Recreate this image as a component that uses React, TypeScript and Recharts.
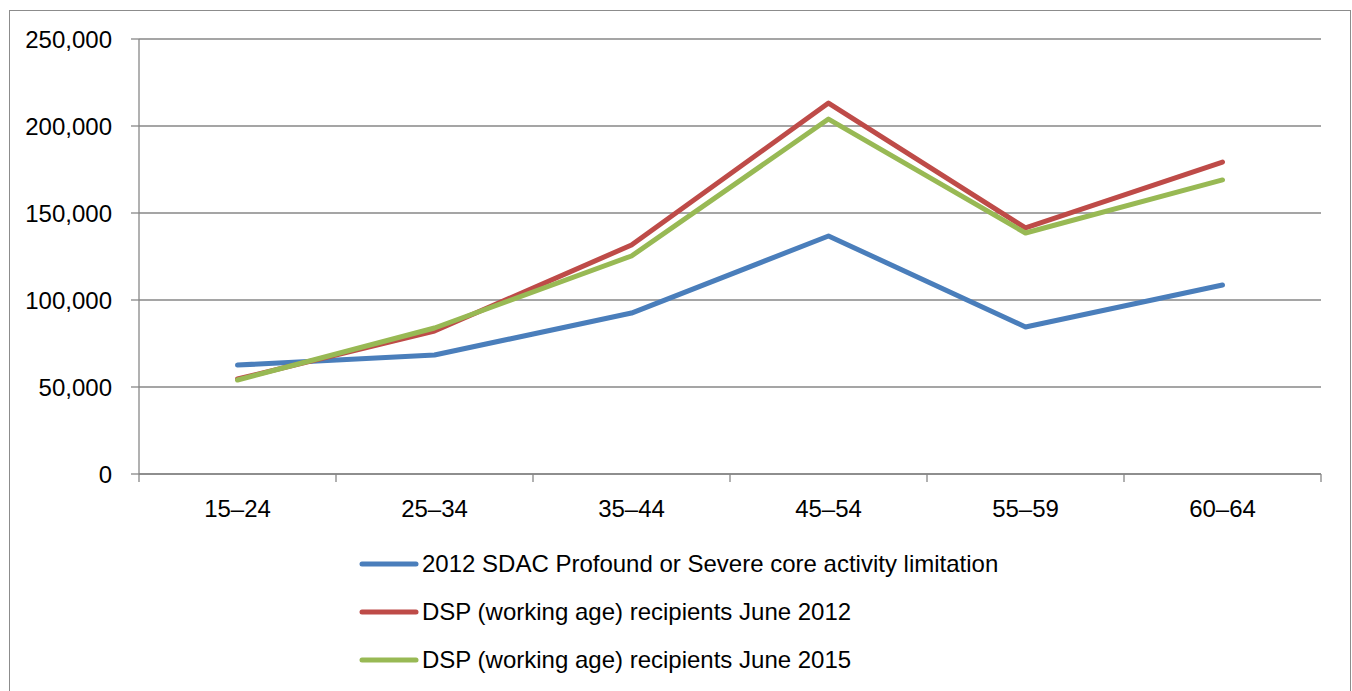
import { LineChart, Line, XAxis, YAxis, CartesianGrid } from "recharts";

const categories = ["15–24", "25–34", "35–44", "45–54", "55–59", "60–64"];

const sdac2012 = [62600, 68400, 92500, 136800, 84500, 108600];
const dsp2012 = [54600, 82200, 131600, 213200, 141400, 179300];
const dsp2015 = [54000, 83900, 125300, 204000, 138500, 169000];

const yTicks = [0, 50000, 100000, 150000, 200000, 250000];

const seriesNames = [
  "2012 SDAC Profound or Severe core activity limitation",
  "DSP (working age) recipients June 2012",
  "DSP (working age) recipients June 2015",
];

const C = {
  blue: "#4a7ebb",
  red: "#be4b48",
  green: "#98b954",
  grid: "#878787",
  text: "#000000",
};

const FONT = "'Liberation Sans', Arial, sans-serif";

// each category sits in the middle of its band; ticks fall on band edges
const data = categories.map((c, i) => ({
  pos: i + 0.5,
  label: c,
  sdac2012: sdac2012[i],
  dsp2012: dsp2012[i],
  dsp2015: dsp2015[i],
}));

const bandEdges = categories.map((_, i) => i).concat([categories.length]);
const bandMids = categories.map((_, i) => i + 0.5);

const series = [
  { key: "sdac2012", color: C.blue, name: seriesNames[0] },
  { key: "dsp2012", color: C.red, name: seriesNames[1] },
  { key: "dsp2015", color: C.green, name: seriesNames[2] },
];

const NoLabel = () => <g />;

export default function App() {
  return (
    <div
      style={{
        position: "absolute",
        left: 0,
        top: 0,
        width: 1352,
        height: 691,
        background: "#fff",
        overflow: "hidden",
        fontFamily: FONT,
      }}
    >
      {/* outer frame */}
      <div
        style={{
          position: "absolute",
          left: 9,
          top: 10,
          width: 1340,
          height: 720,
          border: "1px solid #8c8c8c",
        }}
      />

      <div style={{ position: "absolute", left: 0, top: 0 }}>
        <LineChart
          width={1352}
          height={691}
          data={data}
          margin={{ top: 39, right: 31, left: 0, bottom: 169 }}
        >
          <CartesianGrid
            vertical={false}
            stroke={C.grid}
            strokeWidth={1.3}
          />
          <XAxis
            xAxisId="edges"
            dataKey="pos"
            type="number"
            domain={[0, categories.length]}
            ticks={bandEdges}
            interval={0}
            tick={NoLabel}
            tickSize={8}
            height={8}
            stroke={C.grid}
            strokeWidth={1.3}
          />
          <XAxis
            xAxisId="labels"
            dataKey="pos"
            type="number"
            domain={[0, categories.length]}
            ticks={bandMids}
            interval={0}
            tickFormatter={(v: number) => categories[Math.floor(v)]}
            axisLine={false}
            tickLine={false}
            tickSize={0}
            tickMargin={18}
            height={40}
            tick={{ fill: C.text, fontSize: 24, fontFamily: FONT }}
          />
          <YAxis
            domain={[0, 250000]}
            ticks={yTicks}
            interval={0}
            width={139}
            tickSize={8}
            tickMargin={19}
            stroke={C.grid}
            strokeWidth={1.3}
            tickFormatter={(v: number) => v.toLocaleString("en-US")}
            tick={{ fill: C.text, fontSize: 24, fontFamily: FONT }}
          />
          {series.map((s) => (
            <Line
              key={s.key}
              xAxisId="edges"
              type="linear"
              dataKey={s.key}
              name={s.name}
              stroke={s.color}
              strokeWidth={5}
              strokeLinecap="round"
              strokeLinejoin="round"
              dot={false}
              activeDot={false}
              isAnimationActive={false}
            />
          ))}
        </LineChart>
      </div>

      {/* legend */}
      <div style={{ position: "absolute", left: 359, top: 540 }}>
        {series.map((s) => (
          <div
            key={s.key}
            style={{
              display: "flex",
              alignItems: "center",
              height: 48,
              fontSize: 24,
              color: C.text,
              whiteSpace: "nowrap",
            }}
          >
            <svg width={60} height={10} style={{ marginRight: 3 }}>
              <line
                x1={3}
                y1={5}
                x2={57}
                y2={5}
                stroke={s.color}
                strokeWidth={5}
                strokeLinecap="round"
              />
            </svg>
            <span>{s.name}</span>
          </div>
        ))}
      </div>
    </div>
  );
}
